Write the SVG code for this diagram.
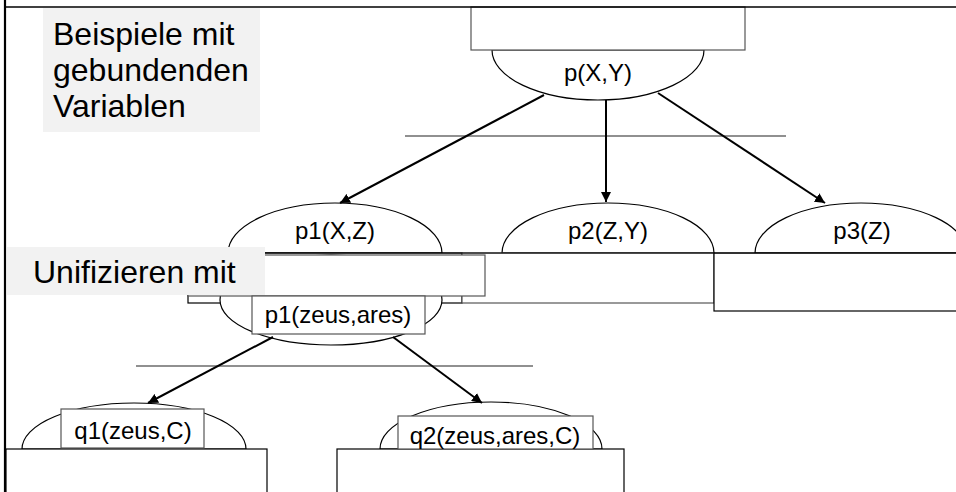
<svg xmlns="http://www.w3.org/2000/svg" width="956" height="492" viewBox="0 0 956 492">
  <style>
    .shape { fill: #fff; stroke: #000; stroke-width: 1.2; }
    .box { fill: #fff; stroke: #555; stroke-width: 1.2; }
    .note { fill: #f2f2f2; stroke: none; }
    .sep { stroke: #222; stroke-width: 1.2; fill: none; }
    .edge { stroke: #000; stroke-width: 2; fill: none; marker-end: url(#arrow); }
    .lbl { font-family: "Liberation Sans", Arial, sans-serif; font-size: 24px; fill: #000; text-anchor: middle; }
    .big { font-family: "Liberation Sans", Arial, sans-serif; font-size: 32px; fill: #000; }
  </style>
  <defs>
    <marker id="arrow" viewBox="0 0 10 10" refX="10" refY="5" markerWidth="5" markerHeight="5" markerUnits="strokeWidth" orient="auto">
      <path d="M0,0 L10,5 L0,10 Z" fill="#000"/>
    </marker>
  </defs>

  <rect width="956" height="492" fill="#fff"/>

  <!-- frame -->
  <line x1="5" y1="0" x2="5" y2="492" stroke="#000" stroke-width="2.2"/>

  <!-- title note -->
  <g id="note-title">
    <rect class="note" x="43" y="8" width="217" height="124"/>
    <text class="big" x="53" y="45">Beispiele mit</text>
    <text class="big" x="53" y="81">gebundenden</text>
    <text class="big" x="53" y="117">Variablen</text>
  </g>

  <!-- root goal -->
  <g id="node-p">
    <path class="shape" d="M492,50 A106,50 0 0 0 704,50 Z"/>
    <rect class="box" x="471" y="7" width="274" height="43"/>
    <text class="lbl" x="598" y="81">p(X,Y)</text>
  </g>

  <line x1="5" y1="7" x2="956" y2="7" stroke="#000" stroke-width="1.5"/>

  <!-- separator lines -->
  <line class="sep" x1="405" y1="136" x2="786" y2="136"/>
  <line class="sep" x1="136" y1="366" x2="533" y2="366"/>

  <!-- sub goals -->
  <g id="node-p1">
    <path class="shape" d="M228,253 A107,50 0 0 1 442,253 Z"/>
    <text class="lbl" x="335" y="239">p1(X,Z)</text>
    <rect class="shape" x="188" y="253" width="274" height="50"/>
  </g>

  <g id="node-p2">
    <path class="shape" d="M502,253 A106,50 0 0 1 714,253 Z"/>
    <text class="lbl" x="608" y="239">p2(Z,Y)</text>
    <rect class="box" x="462" y="253" width="252" height="50"/>
  </g>

  <g id="node-p3">
    <path class="shape" d="M755,253 A106,50 0 0 1 967,253 Z"/>
    <text class="lbl" x="862" y="239">p3(Z)</text>
    <rect class="shape" x="714" y="253" width="250" height="58"/>
  </g>

  <line x1="188" y1="253" x2="956" y2="253" stroke="#000" stroke-width="1.2"/>

  <!-- unified goal -->
  <g id="node-p1-zeus-ares">
    <ellipse class="shape" cx="331" cy="300" rx="111" ry="45"/>
    <rect class="box" x="188" y="255" width="297" height="41"/>
  </g>

  <g id="note-unify">
    <rect class="note" x="7" y="247" width="258" height="48"/>
    <text class="big" x="33" y="283">Unifizieren mit</text>
  </g>

  <g id="label-p1-zeus-ares">
    <rect class="box" x="252" y="296" width="173" height="38"/>
    <text class="lbl" x="338" y="323">p1(zeus,ares)</text>
  </g>

  <!-- lower goals -->
  <g id="node-q1">
    <path class="shape" d="M22,449 A112,46 0 0 1 246,449 Z"/>
    <rect class="shape" x="6" y="449" width="261" height="50"/>
    <rect class="box" x="61" y="409" width="143" height="39"/>
    <text class="lbl" x="133" y="439">q1(zeus,C)</text>
  </g>

  <g id="node-q2">
    <path class="shape" d="M380,449 A111,47 0 0 1 602,449 Z"/>
    <rect class="shape" x="337" y="449" width="287" height="50"/>
    <rect class="box" x="398" y="416" width="195" height="33"/>
    <text class="lbl" x="495" y="444">q2(zeus,ares,C)</text>
  </g>

  <!-- connectors -->
  <g id="connectors">
    <line class="edge" x1="544" y1="95" x2="340" y2="203"/>
    <line class="edge" x1="606" y1="100" x2="606" y2="202"/>
    <line class="edge" x1="658" y1="93" x2="825" y2="203"/>
    <line class="edge" x1="273" y1="337" x2="148" y2="403"/>
    <line class="edge" x1="393" y1="337" x2="482" y2="403"/>
  </g>
</svg>
